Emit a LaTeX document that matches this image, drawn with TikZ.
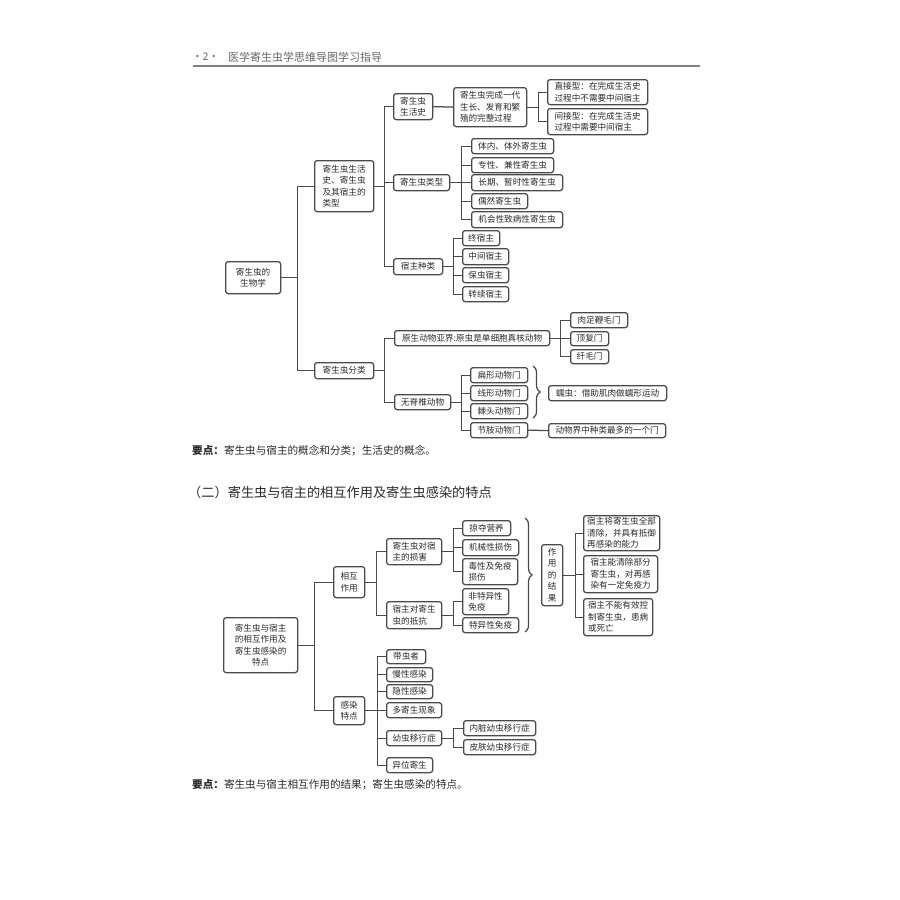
\documentclass[tikz,border=0pt]{standalone}
\usepackage{fontspec}
\setmainfont{Noto Sans CJK SC}
\usetikzlibrary{decorations.pathreplacing}
\definecolor{linec}{HTML}{4A4A4A}
\definecolor{txt}{HTML}{2A2A2A}
\definecolor{hdr}{HTML}{666666}
\tikzset{
  bx/.style={draw=linec, line width=1.25pt, rounded corners=2.5pt, inner xsep=2pt, inner ysep=1pt,
    font=\fontsize{8.6}{11.5}\selectfont, text=txt, align=left, anchor=north west},
  ln/.style={draw=linec, line width=1.25pt},
  brc/.style={draw=linec, line width=1.2pt, decorate, decoration={brace,amplitude=7pt}},
  plain/.style={anchor=west, text=txt, inner sep=0pt},
}
\newcommand\mybox[7][]{\node[bx,minimum width={#4-#2},minimum height={#5-#3},#1] (#6) at (#2,#3) {#7};}
\begin{document}
\begin{tikzpicture}[x=1pt,y=-1pt]
\useasboundingbox[fill=white] (0,0) rectangle (900,900);
% header
\node[plain, text=hdr, font=\fontsize{10.5}{12}\selectfont] (pg) at (192,57) {·2·};
\node[plain, text=hdr, font=\fontsize{11}{12}\selectfont] (ttl) at (228,57) {医学寄生虫学思维导图学习指导};
\draw[draw=gray, line width=2pt] (193,66) -- (700,66);

% ===== top diagram =====
\mybox[align=center]{225}{261}{280}{293}{A}{寄生虫的\\生物学}
\mybox{314}{160}{373}{211}{B1}{寄生虫生活\\史、寄生虫\\及其宿主的\\类型}
\mybox[align=center]{314}{362}{373}{378}{B2}{寄生虫分类}
\mybox[align=center]{393}{93}{432}{119}{C1}{寄生虫\\生活史}
\mybox[align=center]{393}{174}{449}{190}{C2}{寄生虫类型}
\mybox[align=center]{393}{258}{442}{274}{C3}{宿主种类}
\mybox{453}{87}{526}{126}{D1}{寄生虫完成一代\\生长、发育和繁\\殖的完整过程}
\mybox{547}{79}{647}{104}{E1}{直接型：在完成生活史\\过程中不需要中间宿主}
\mybox{547}{108}{647}{134}{E2}{间接型：在完成生活史\\过程中需要中间宿主}
\mybox{471}{138}{553}{153}{T1}{体内、体外寄生虫}
\mybox{471}{157}{553}{172}{T2}{专性、兼性寄生虫}
\mybox{471}{174}{562}{190}{T3}{长期、暂时性寄生虫}
\mybox{471}{193}{527}{208}{T4}{偶然寄生虫}
\mybox{471}{211}{562}{227}{T5}{机会性致病性寄生虫}
\mybox{462}{230}{499}{245}{H1}{终宿主}
\mybox{462}{248}{508}{264}{H2}{中间宿主}
\mybox{462}{267}{508}{282}{H3}{保虫宿主}
\mybox{462}{286}{508}{301}{H4}{转续宿主}
\mybox{394}{330}{549}{345}{P}{原生动物亚界:原虫是单细胞真核动物}
\mybox{394}{394}{450}{409}{Q}{无脊椎动物}
\mybox{570}{312}{627}{327}{P1}{肉足鞭毛门}
\mybox{570}{331}{608}{345}{P2}{顶复门}
\mybox{570}{349}{608}{363}{P3}{纤毛门}
\mybox{470}{367}{527}{382}{Q1}{扁形动物门}
\mybox{470}{385}{527}{400}{Q2}{线形动物门}
\mybox{470}{403}{527}{418}{Q3}{棘头动物门}
\mybox{470}{422}{527}{437}{Q4}{节肢动物门}
\mybox{548}{385}{666}{400}{W}{蠕虫：借助肌肉做蠕形运动}
\mybox{548}{423}{665}{437}{Z}{动物界中种类最多的一个门}

\draw[ln] (A.east) -- ++(16,0) |- (B1.west);
\draw[ln] (A.east) -- ++(16,0) |- (B2.west);
\foreach \c in {C1,C2,C3} \draw[ln] (B1.east) -- ++(10,0) |- (\c.west);
\draw[ln] (C1.east) -- (D1.west);
\foreach \c in {E1,E2} \draw[ln] (D1.east) -- ++(11,0) |- (\c.west);
\foreach \c in {T1,T2,T3,T4,T5} \draw[ln] (C2.east) -- ++(11,0) |- (\c.west);
\foreach \c in {H1,H2,H3,H4} \draw[ln] (C3.east) -- ++(10,0) |- (\c.west);
\foreach \c in {P,Q} \draw[ln] (B2.east) -- ++(10,0) |- (\c.west);
\foreach \c in {P1,P2,P3} \draw[ln] (P.east) -- ++(10,0) |- (\c.west);
\foreach \c in {Q1,Q2,Q3,Q4} \draw[ln] (Q.east) -- ++(10,0) |- (\c.west);
\draw[ln] (Q4.east) -- (Z.west);
\draw[brc] (533,366) -- (533,418);

\node[plain, font=\fontsize{10.6}{12}\selectfont] (k1) at (192,451) {{\bfseries 要点：}寄生虫与宿主的概念和分类；生活史的概念。};

% section title
\node[plain, font=\fontsize{13.2}{15}\selectfont] (sec) at (188,492) {（二）寄生虫与宿主的相互作用及寄生虫感染的特点};

% ===== bottom diagram =====
\mybox[align=center]{223}{617}{297}{672}{R}{寄生虫与宿主\\的相互作用及\\寄生虫感染的\\特点}
\mybox[align=center]{333}{566}{364}{597}{M1}{相互\\作用}
\mybox[align=center]{333}{696}{364}{724}{M2}{感染\\特点}
\mybox{386}{538}{441}{564}{N1}{寄生虫对宿\\主的损害}
\mybox{386}{601}{441}{628}{N2}{宿主对寄生\\虫的抵抗}
\mybox{462}{520}{510}{535}{S1}{掠夺营养}
\mybox{462}{539}{518}{555}{S2}{机械性损伤}
\mybox{462}{558}{517}{584}{S3}{毒性及免疫\\损伤}
\mybox{462}{588}{508}{614}{S4}{非特异性\\免疫}
\mybox{462}{617}{518}{632}{S5}{特异性免疫}
\mybox[align=center]{541}{544}{562}{605}{G}{作\\用\\的\\结\\果}
\mybox{583}{515}{659}{550}{G1}{宿主将寄生虫全部\\清除，并具有抵御\\再感染的能力}
\mybox{583}{555}{657}{592}{G2}{宿主能清除部分\\寄生虫，对再感\\染有一定免疫力}
\mybox{583}{598}{652}{635}{G3}{宿主不能有效控\\制寄生虫，患病\\或死亡}
\mybox{386}{649}{425}{663}{F1}{带虫者}
\mybox{386}{667}{432}{681}{F2}{慢性感染}
\mybox{386}{684}{432}{698}{F3}{隐性感染}
\mybox{386}{702}{441}{717}{F4}{多寄生现象}
\mybox{386}{730}{441}{745}{F5}{幼虫移行症}
\mybox{386}{757}{432}{772}{F6}{异位寄生}
\mybox{463}{720}{535}{735}{V1}{内脏幼虫移行症}
\mybox{463}{739}{535}{754}{V2}{皮肤幼虫移行症}

\foreach \c in {M1,M2} \draw[ln] (R.east) -- ++(16,0) |- (\c.west);
\foreach \c in {N1,N2} \draw[ln] (M1.east) -- ++(11,0) |- (\c.west);
\foreach \c in {S1,S2,S3} \draw[ln] (N1.east) -- ++(11,0) |- (\c.west);
\foreach \c in {S4,S5} \draw[ln] (N2.east) -- ++(11,0) |- (\c.west);
\foreach \c in {G1,G2,G3} \draw[ln] (G.east) -- ++(12,0) |- (\c.west);
\foreach \c in {F1,F2,F3,F4,F5,F6} \draw[ln] (M2.east) -- ++(12,0) |- (\c.west);
\foreach \c in {V1,V2} \draw[ln] (F5.east) -- ++(11,0) |- (\c.west);
\draw[brc] (525,518) -- (525,632);

\node[plain, font=\fontsize{10.6}{12}\selectfont] (k2) at (192,785) {{\bfseries 要点：}寄生虫与宿主相互作用的结果；寄生虫感染的特点。};
\end{tikzpicture}
\end{document}
